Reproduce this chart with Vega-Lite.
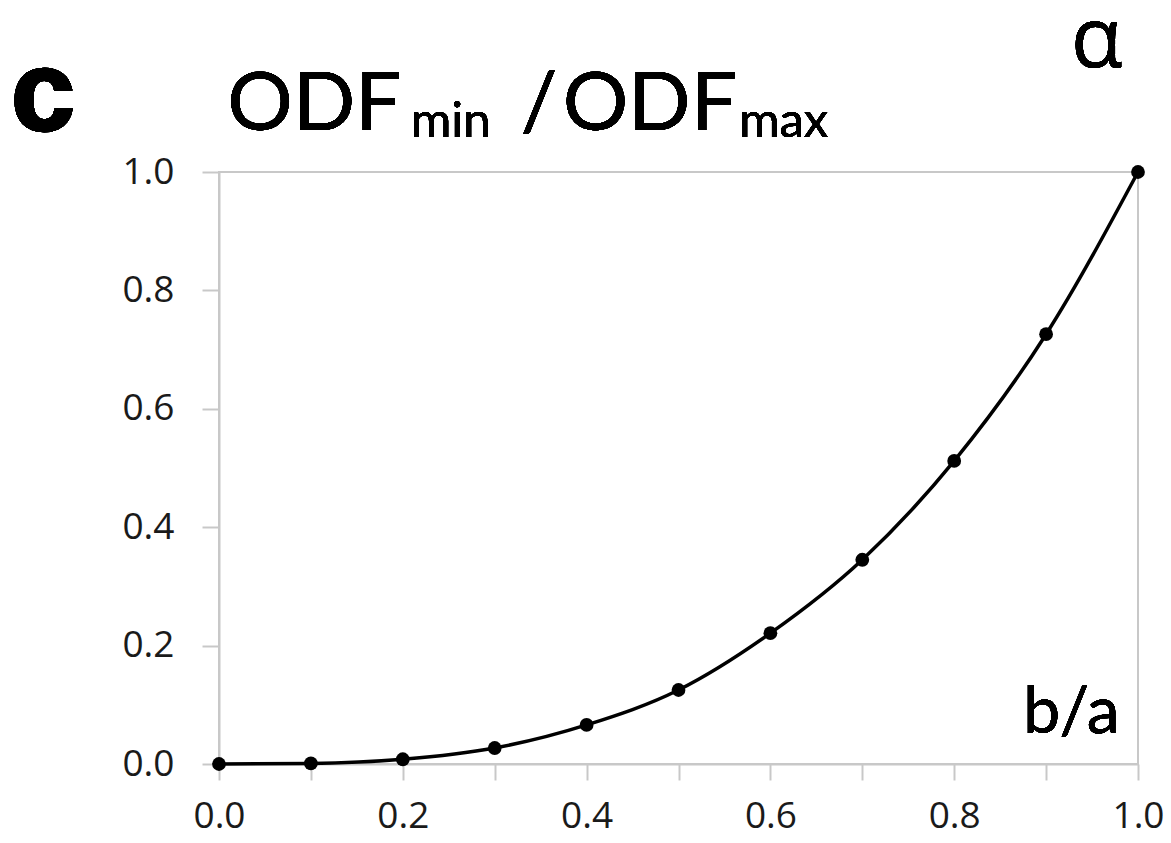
{
  "$schema": "https://vega.github.io/schema/vega-lite/v6.json",
  "autosize": "none",
  "padding": {"left": 219, "top": 172, "right": 33, "bottom": 79},
  "width": 919,
  "height": 592,
  "background": "white",
  "config": {
    "view": {"stroke": "#c8c8c8", "strokeWidth": 2},
    "axis": {
      "grid": false,
      "domainColor": "#c8c8c8",
      "domainWidth": 2,
      "tickColor": "#c8c8c8",
      "tickWidth": 2,
      "tickSize": 16,
      "labelFont": "Open Sans",
      "labelFontSize": 37,
      "labelColor": "#1a1a1a",
      "title": null
    }
  },
  "data": {
    "values": [
      {"ba": 0.0, "ratio": 0.0},
      {"ba": 0.1, "ratio": 0.001},
      {"ba": 0.2, "ratio": 0.008},
      {"ba": 0.3, "ratio": 0.027},
      {"ba": 0.4, "ratio": 0.066},
      {"ba": 0.5, "ratio": 0.125},
      {"ba": 0.6, "ratio": 0.221},
      {"ba": 0.7, "ratio": 0.345},
      {"ba": 0.8, "ratio": 0.512},
      {"ba": 0.9, "ratio": 0.726},
      {"ba": 1.0, "ratio": 1.0}
    ]
  },
  "encoding": {
    "x": {
      "field": "ba", "type": "quantitative",
      "scale": {"domain": [0, 1], "nice": false},
      "axis": {
        "values": [0, 0.1, 0.2, 0.3, 0.4, 0.5, 0.6, 0.7, 0.8, 0.9, 1.0],
        "labelExpr": "round(datum.value*10)%2==0 ? format(datum.value,'.1f') : ''",
        "labelPadding": 18,
        "labelFlush": false
      }
    },
    "y": {
      "field": "ratio", "type": "quantitative",
      "scale": {"domain": [0, 1], "nice": false},
      "axis": {
        "values": [0, 0.2, 0.4, 0.6, 0.8, 1.0],
        "format": ".1f",
        "tickSize": 17,
        "labelPadding": 28
      }
    }
  },
  "layer": [
    {"mark": {"type": "line", "color": "black", "strokeWidth": 3.5, "interpolate": "monotone"}},
    {"mark": {"type": "point", "filled": true, "color": "black", "size": 190, "opacity": 1}},
    {
      "mark": {"type": "text", "text": "c", "font": "Liberation Sans", "fontWeight": "bold", "fontSize": 114, "align": "left", "baseline": "alphabetic", "color": "black", "stroke": "black", "strokeWidth": 2.5},
      "encoding": {"x": {"datum": -0.226}, "y": {"datum": 1.071}}
    },
    {
      "mark": {"type": "text", "text": "ODF", "font": "Lato", "fontSize": 82, "align": "left", "baseline": "alphabetic", "color": "black"},
      "encoding": {"x": {"datum": 0.009}, "y": {"datum": 1.071}}
    },
    {
      "mark": {"type": "text", "text": "min", "font": "Lato", "fontSize": 49, "align": "left", "baseline": "alphabetic", "color": "black"},
      "encoding": {"x": {"datum": 0.209}, "y": {"datum": 1.059}}
    },
    {
      "mark": {"type": "text", "text": "/", "font": "Lato", "fontSize": 82, "align": "left", "baseline": "alphabetic", "color": "black"},
      "encoding": {"x": {"datum": 0.328}, "y": {"datum": 1.071}}
    },
    {
      "mark": {"type": "text", "text": "ODF", "font": "Lato", "fontSize": 82, "align": "left", "baseline": "alphabetic", "color": "black"},
      "encoding": {"x": {"datum": 0.374}, "y": {"datum": 1.071}}
    },
    {
      "mark": {"type": "text", "text": "max", "font": "Lato", "fontSize": 49, "align": "left", "baseline": "alphabetic", "color": "black"},
      "encoding": {"x": {"datum": 0.566}, "y": {"datum": 1.059}}
    },
    {
      "mark": {"type": "text", "text": "α", "font": "Open Sans", "fontSize": 84, "align": "center", "baseline": "alphabetic", "color": "black"},
      "encoding": {"x": {"datum": 0.955}, "y": {"datum": 1.177}}
    },
    {
      "mark": {"type": "text", "text": "b/a", "font": "Lato", "fontSize": 66, "align": "right", "baseline": "alphabetic", "color": "black"},
      "encoding": {"x": {"datum": 0.98}, "y": {"datum": 0.052}}
    }
  ]
}
